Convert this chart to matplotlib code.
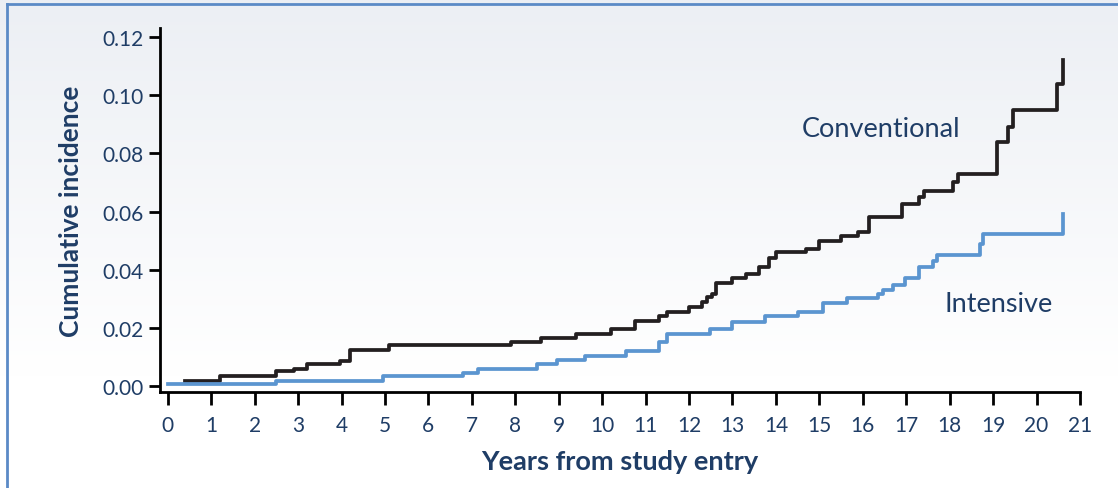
import numpy as np
import matplotlib.pyplot as plt
from matplotlib.lines import Line2D

# step times (years) and cumulative incidence
conv_years = [0.4, 1.2, 2.5, 2.9, 3.2, 3.96, 4.2, 5.1, 7.9, 8.6, 9.4, 10.2,
              10.75, 11.3, 11.5, 12.0, 12.3, 12.42, 12.52, 12.63, 13.0, 13.3,
              13.6, 13.85, 14.0, 14.7, 15.0, 15.5, 15.9, 16.15, 16.9, 17.3,
              17.4, 18.08, 18.2, 19.1, 19.35, 19.45, 20.47, 20.6]
conv_inc = [0.0017, 0.0035, 0.005, 0.006, 0.0075, 0.0085, 0.0125, 0.014,
            0.015, 0.0165, 0.018, 0.0195, 0.0225, 0.024, 0.0255, 0.027, 0.029,
            0.0305, 0.0315, 0.0355, 0.037, 0.0385, 0.041, 0.044, 0.046, 0.047,
            0.050, 0.0515, 0.053, 0.058, 0.0625, 0.065, 0.067, 0.070, 0.073,
            0.084, 0.089, 0.095, 0.104, 0.112]

int_years = [0.0, 2.5, 4.95, 6.8, 7.15, 8.5, 8.95, 9.6, 10.55, 11.3, 11.5,
             12.48, 12.98, 13.75, 14.5, 15.08, 15.63, 16.35, 16.47, 16.7,
             16.97, 17.3, 17.62, 17.7, 18.7, 18.77, 20.6]
int_inc = [0.0007, 0.0017, 0.0033, 0.0045, 0.006, 0.0075, 0.009, 0.0103,
           0.012, 0.0151, 0.0179, 0.0196, 0.022, 0.024, 0.0254, 0.0285, 0.0303,
           0.0316, 0.033, 0.0347, 0.0371, 0.0409, 0.043, 0.045, 0.0488, 0.0523,
           0.059]

x_ticks = list(range(0, 22))
y_ticks = [0.00, 0.02, 0.04, 0.06, 0.08, 0.10, 0.12]

navy = '#1f3d66'
plt.rcParams['font.family'] = ['Lato', 'DejaVu Sans']

fig = plt.figure(figsize=(11.18, 4.89), dpi=100)

# background gradient + border
bg = fig.add_axes([0, 0, 1, 1], zorder=-5)
grad = np.linspace(0, 1, 256).reshape(-1, 1)
top = np.array([0.925, 0.937, 0.957])
bottom = np.array([1.0, 1.0, 1.0])
img = top + (bottom - top) * np.clip(grad * 1.3, 0, 1)[:, :, None] * np.ones((1, 1, 3))
bg.imshow(img, aspect='auto', extent=[0, 1, 1, 0])
bg.set_xlim(0, 1)
bg.set_ylim(1, 0)
bg.axis('off')
fig.add_artist(Line2D([7 / 1118, 7 / 1118], [0, 1 - 5 / 489], transform=fig.transFigure,
                      color='#5b8ac6', lw=2))
fig.add_artist(Line2D([7 / 1118, 1], [1 - 5 / 489, 1 - 5 / 489], transform=fig.transFigure,
                      color='#5b8ac6', lw=2))

ax = fig.add_axes([0.1431, 0.1955, 0.8229, 0.7446])
ax.set_facecolor('none')

ax.step(conv_years, conv_inc, where='post', color='#231f20', lw=2.7)
ax.step(int_years, int_inc, where='post', color='#5b95d0', lw=2.7)

ax.set_xlim(-0.18, 21)
ax.set_ylim(-0.0022, 0.123)
ax.set_xticks(x_ticks)
ax.set_yticks(y_ticks)
ax.set_yticklabels([f'{v:.2f}' for v in y_ticks])

for s in ['top', 'right']:
    ax.spines[s].set_visible(False)
for s in ['left', 'bottom']:
    ax.spines[s].set_linewidth(2)
    ax.spines[s].set_color('black')

ax.tick_params(axis='x', length=9, width=2, pad=7, labelsize=15, labelcolor=navy)
ax.tick_params(axis='y', length=8, width=2, pad=4, labelsize=15, labelcolor=navy)

ax.set_xlabel('Years from study entry', fontsize=19.5, fontweight='bold', color=navy, labelpad=10)
ax.set_ylabel('Cumulative incidence', fontsize=19, fontweight='bold', color=navy, labelpad=14)

ax.text(14.6, 0.0885, 'Conventional', fontsize=19.5, color=navy, ha='left', va='center')
ax.text(17.88, 0.0285, 'Intensive', fontsize=19.5, color=navy, ha='left', va='center')

fig.savefig('out.png', dpi=100)
